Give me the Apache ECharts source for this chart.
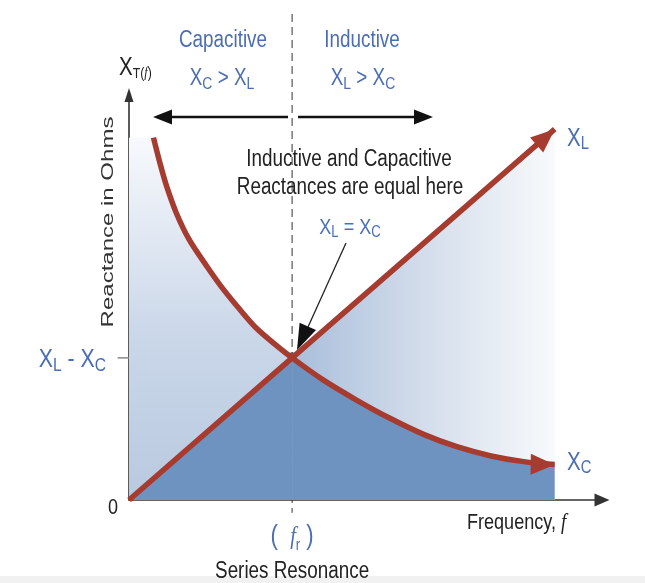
<!DOCTYPE html>
<html><head><meta charset="utf-8">
<script src="https://cdn.jsdelivr.net/npm/echarts@6/dist/echarts.min.js"></script>
<style>html,body{margin:0;padding:0;background:#fff}#c{width:645px;height:583px}</style>
</head><body><div id="c"></div>
<script>
// ---------------- data (normalised: f / fr, X / X(fr)) ----------------
const resonanceFreq = 1.0;
const resonanceReact = 1.0;
const xlFreq  = [0, 1.0, 2.61];
const xlReact = [0, 1.0, 2.61];
const xcFreq  = [0.15, 0.19, 0.23, 0.29, 0.37, 0.48, 0.58, 0.68, 0.78, 0.89, 1.0, 1.19, 1.40, 1.60, 1.81, 2.01, 2.22, 2.42, 2.61];
const xcReact = [2.55, 2.37, 2.21, 2.02, 1.83, 1.64, 1.48, 1.34, 1.21, 1.10, 1.00, 0.845, 0.70, 0.575, 0.46, 0.375, 0.31, 0.27, 0.25];
const xTickValues = [1];
const xTickLabels = ['{p|(  }{i|f}{r|r}{p| )}'];
const xTickCaptions = ['Series Resonance'];
const yTickValues = [0, 1];
const yTickLabels = ['{z|0}', '{m|X}{s|L}{m| - X}{s|C}'];

// ---------------- styles ----------------
const SANS = '"Liberation Sans", Arial, sans-serif';
const SERIF = '"Liberation Serif", "DejaVu Serif", serif';
const NARROW_SCALE = 0.82;
const BLUE = '#4a6db5';
const INK = '#222222';
const RED = '#a63b30';
const DARK = '#6f93c0';

const xlPts = xlFreq.map((f, i) => [f, xlReact[i]]);
const xcPts = xcFreq.map((f, i) => [f, xcReact[i]]);
const lightLeft = [[0, xcReact[0]]].concat(xcPts.filter(p => p[0] <= resonanceFreq));
const lightRight = xlPts.filter(p => p[0] >= resonanceFreq);
const darkLeft = xlPts.filter(p => p[0] <= resonanceFreq);
const darkRight = xcPts.filter(p => p[0] >= resonanceFreq);

const xlLine = xlPts.map((p, i) => i === xlPts.length - 1
  ? { value: p, symbol: 'triangle', symbolSize: [20, 24], symbolRotate: -49, symbolOffset: [-9, 8] }
  : { value: p });
const xcLine = xcPts.map((p, i) => i === xcPts.length - 1
  ? { value: p, symbol: 'triangle', symbolSize: [21, 24], symbolRotate: -91, symbolOffset: [-12, 0] }
  : { value: p });

function richText(x, y, text, color, mainSize, subSize, align, extra) {
  return Object.assign({
    type: 'text', x: x, y: y, z: 20, scaleX: NARROW_SCALE,
    style: {
      text: text, fill: color, align: align || 'center', verticalAlign: 'middle',
      fontFamily: SANS, fontSize: mainSize,
      rich: {
        m: { fontSize: mainSize, fontFamily: SANS, fill: color, lineHeight: mainSize + 4 },
        s: { fontSize: subSize, fontFamily: SANS, fill: color, lineHeight: subSize, verticalAlign: 'bottom' },
        z: { fontSize: mainSize, fontFamily: SANS, fill: color },
        p: { fontSize: mainSize, fontFamily: SANS, fill: color, lineHeight: mainSize + 6 },
        i: { fontSize: mainSize - 2, fontFamily: SERIF, fontStyle: 'italic', fill: color, lineHeight: mainSize + 6 },
        r: { fontSize: subSize, fontFamily: SANS, fill: color, lineHeight: subSize + 4, verticalAlign: 'bottom' }
      }
    }
  }, extra || {});
}
function plainText(x, y, text, color, size, align) {
  return { type: 'text', x: x, y: y, z: 20, scaleX: NARROW_SCALE,
    style: { text: text, fill: color, fontFamily: SANS, fontSize: size, align: align || 'center', verticalAlign: 'middle' } };
}

const chart = echarts.init(document.getElementById('c'), null, { renderer: 'canvas' });
chart.setOption({
  animation: false,
  backgroundColor: '#ffffff',
  grid: { left: 129, right: 43, top: 95, bottom: 83 },
  xAxis: {
    type: 'value', min: 0, max: 2.9,
    axisLine: { show: true, symbol: ['none', 'triangle'], symbolSize: [13, 15], lineStyle: { color: '#333', width: 1.6 } },
    axisTick: { show: false }, splitLine: { show: false }, axisLabel: { show: false }
  },
  yAxis: {
    type: 'value', min: 0, max: 2.85,
    axisLine: { show: true, symbol: ['none', 'triangle'], symbolSize: [9, 14], lineStyle: { color: '#333', width: 1.6 } },
    axisTick: { show: false }, splitLine: { show: false }, axisLabel: { show: false }
  },
  series: [
    { name: 'lightLeft', type: 'line', data: lightLeft, smooth: 0.3, symbol: 'none', silent: true,
      lineStyle: { width: 0 },
      areaStyle: { opacity: 1, color: new echarts.graphic.LinearGradient(0, 0, 0, 1, [
        { offset: 0, color: '#f7f9fc' }, { offset: 0.55, color: '#cad7e9' }, { offset: 1, color: '#b9c9df' }]) } },
    { name: 'lightRight', type: 'line', data: lightRight, symbol: 'none', silent: true,
      lineStyle: { width: 0 },
      areaStyle: { opacity: 1, color: new echarts.graphic.LinearGradient(0, 0, 1, 0, [
        { offset: 0, color: '#a9bedb' }, { offset: 0.5, color: '#d3ddeb' }, { offset: 1, color: '#f8fafc' }]) } },
    { name: 'darkLeft', type: 'line', data: darkLeft, symbol: 'none', silent: true,
      lineStyle: { width: 0 }, areaStyle: { opacity: 1, color: DARK } },
    { name: 'darkRight', type: 'line', data: darkRight, smooth: 0.3, symbol: 'none', silent: true,
      lineStyle: { width: 0 }, areaStyle: { opacity: 1, color: DARK } },
    { name: 'guides', type: 'custom', clip: false, silent: true,
      data: [[resonanceFreq, resonanceReact]],
      renderItem: function (params, api) {
        const p = api.coord([api.value(0), api.value(1)]);
        const top = api.coord([api.value(0), 3.42]);
        const bot = api.coord([api.value(0), -0.09]);
        const left = api.coord([-0.07, api.value(1)]);
        return { type: 'group', children: [
          { type: 'line', shape: { x1: p[0], y1: top[1], x2: p[0], y2: bot[1] },
            style: { stroke: '#333', lineWidth: 1, lineDash: [8, 5] } },
          { type: 'line', shape: { x1: left[0], y1: p[1], x2: p[0], y2: p[1] },
            style: { stroke: '#999', lineWidth: 1.8, lineDash: [11, 6] } }
        ] };
      } },
    { name: 'XL', type: 'line', data: xlLine, symbol: 'none', showSymbol: true, silent: true,
      lineStyle: { color: RED, width: 5.5 }, itemStyle: { color: RED } },
    { name: 'XC', type: 'line', data: xcLine, smooth: 0.3, symbol: 'none', showSymbol: true, silent: true,
      lineStyle: { color: RED, width: 5.5 }, itemStyle: { color: RED } },
    { name: 'resonance', type: 'scatter', data: [[resonanceFreq, resonanceReact]], symbol: 'circle', symbolSize: 10,
      silent: true, itemStyle: { color: '#a9a9a9', borderColor: '#3a3a3a', borderWidth: 1.5 } }
  ]
});

// tick labels placed at axis positions
const tickGraphics = [];
yTickValues.forEach((v, i) => {
  const pt = chart.convertToPixel({ gridIndex: 0 }, [0, v]);
  if (v === 0) tickGraphics.push(richText(pt[0] - 11, pt[1] + 8, yTickLabels[i], INK, 22, 15, 'right'));
  else tickGraphics.push(richText(pt[0] - 23, pt[1] + 2, yTickLabels[i], BLUE, 26, 19, 'right'));
});
xTickValues.forEach((v, i) => {
  const pt = chart.convertToPixel({ gridIndex: 0 }, [v, 0]);
  tickGraphics.push(richText(pt[0], pt[1] + 37, xTickLabels[i], BLUE, 27, 16, 'center'));
  tickGraphics.push(plainText(pt[0], pt[1] + 72, xTickCaptions[i], INK, 23));
});

chart.setOption({
  graphic: [
    { type: 'rect', z: -10, shape: { x: 0, y: 576, width: 645, height: 7 }, style: { fill: '#f1f1f1' } },
    // region arrows
    { type: 'line', z: 20, shape: { x1: 288, y1: 117, x2: 168, y2: 117 }, style: { stroke: '#111', lineWidth: 2.5 } },
    { type: 'polygon', z: 20, shape: { points: [[153, 117], [172, 109.5], [172, 124.5]] }, style: { fill: '#111' } },
    { type: 'line', z: 20, shape: { x1: 298, y1: 117, x2: 418, y2: 117 }, style: { stroke: '#111', lineWidth: 2.5 } },
    { type: 'polygon', z: 20, shape: { points: [[433, 117], [414, 109.5], [414, 124.5]] }, style: { fill: '#111' } },
    // pointer arrow
    { type: 'line', z: 20, shape: { x1: 346, y1: 243, x2: 308, y2: 327 }, style: { stroke: '#222', lineWidth: 1.3 } },
    { type: 'polygon', z: 20, shape: { points: [[297, 350], [316, 330], [299.6, 322.7]] }, style: { fill: '#111' } },
    // texts
    plainText(223, 41, 'Capacitive', BLUE, 23),
    richText(222, 79, '{m|X}{s|C}{m| > X}{s|L}', BLUE, 23, 17),
    plainText(362, 41, 'Inductive', BLUE, 23),
    richText(363, 79, '{m|X}{s|L}{m| > X}{s|C}', BLUE, 23, 17),
    plainText(349, 160, 'Inductive and Capacitive', INK, 23),
    plainText(350, 188, 'Reactances are equal here', INK, 23),
    richText(350, 228, '{m|X}{s|L}{m| = X}{s|C}', BLUE, 22, 16),
    richText(567, 139, '{m|X}{s|L}', BLUE, 25, 18, 'left'),
    richText(567, 463, '{m|X}{s|C}', BLUE, 25, 18, 'left'),
    { type: 'text', x: 119, y: 68, z: 20, scaleX: NARROW_SCALE,
      style: { text: '{x|X}{s|T(}{i|f}{s|)}', fill: INK, align: 'left', verticalAlign: 'middle',
        rich: {
          x: { fontSize: 25, fontFamily: SANS, fill: INK, lineHeight: 26 },
          s: { fontSize: 15, fontFamily: SANS, fill: INK, lineHeight: 10, verticalAlign: 'bottom' },
          i: { fontSize: 15, fontFamily: SERIF, fontStyle: 'italic', fill: INK, lineHeight: 10, verticalAlign: 'bottom' }
        } } },
    { type: 'text', x: 467, y: 523, z: 20, scaleX: NARROW_SCALE,
      style: { text: '{t|Frequency, }{i|f}', fill: INK, align: 'left', verticalAlign: 'middle',
        rich: {
          t: { fontSize: 22, fontFamily: SANS, fill: INK },
          i: { fontSize: 23, fontFamily: SERIF, fontStyle: 'italic', fill: INK }
        } } },
    { type: 'text', x: 108.5, y: 222, z: 20, rotation: Math.PI / 2, scaleX: 1.5,
      style: { text: 'Reactance in Ohms', fill: '#333', fontFamily: SANS, fontSize: 16,
        align: 'center', verticalAlign: 'middle' } }
  ].concat(tickGraphics)
});
</script></body></html>
